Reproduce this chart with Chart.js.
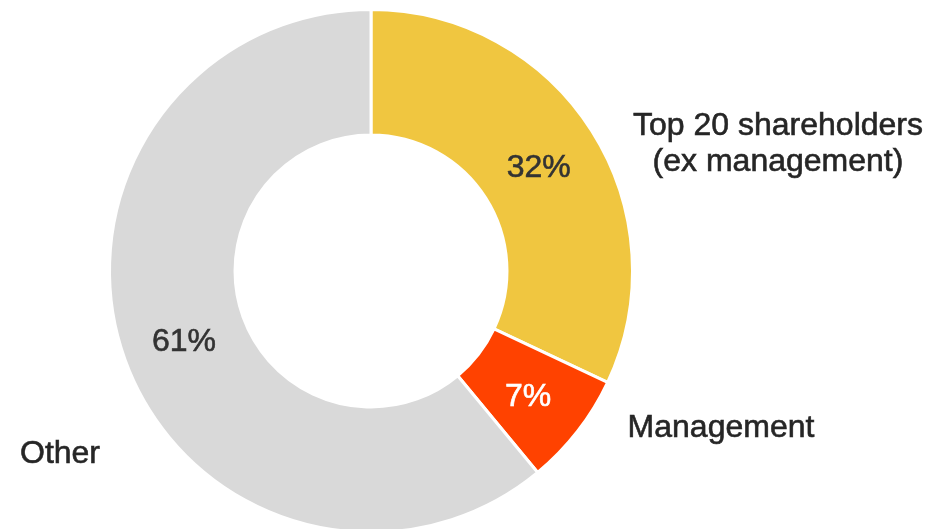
<!DOCTYPE html>
<html>
<head>
<meta charset="utf-8">
<script src="https://cdn.jsdelivr.net/npm/chart.js@4.4.0/dist/chart.umd.min.js"></script>
<style>
  html, body { margin: 0; padding: 0; background: #fff; overflow: hidden; }
  #wrap { width: 931px; height: 542px; }
</style>
</head>
<body>
<div id="wrap"><canvas id="shareChart" width="931" height="542"></canvas></div>
<script>
// Shareholder structure
const categories = ["Top 20 shareholders\n(ex management)", "Management", "Other"];
const shares = [32, 7, 61];
const sliceColors = ["#F0C640", "#FF4200", "#D9D9D9"];
const valueColors = ["#333333", "#FFFFFF", "#333333"];

// outside label anchors, relative to chart centre (text only)
const labelOffsets = [[407, -145], [350, 157], [-311, 183]];

const FONT = "Liberation Sans, Arial, sans-serif";

/* =========================
   labels plugin
========================= */
const sliceLabels = {
    id: "sliceLabels",
    afterDatasetsDraw(chart) {
        const ctx = chart.ctx;
        const meta = chart.getDatasetMeta(0);
        ctx.save();
        ctx.textAlign = "center";
        ctx.textBaseline = "middle";
        ctx.lineWidth = 0.6;
        meta.data.forEach((arc, i) => {
            const p = arc.tooltipPosition();
            ctx.font = "32px " + FONT;
            ctx.fillStyle = valueColors[i];
            ctx.strokeStyle = valueColors[i];
            ctx.fillText(shares[i] + "%", p.x, p.y + 4);
            ctx.strokeText(shares[i] + "%", p.x, p.y + 4);

            const lines = categories[i].split("\n");
            const cx = arc.x + labelOffsets[i][0];
            const cy = arc.y + labelOffsets[i][1];
            ctx.fillStyle = "#262626";
            ctx.strokeStyle = "#262626";
            lines.forEach((line, j) => {
                ctx.fillText(line, cx, cy + j * 36);
                ctx.strokeText(line, cx, cy + j * 36);
            });
        });
        ctx.restore();
    }
};

new Chart(document.getElementById("shareChart"), {
    type: "doughnut",
    data: {
        labels: categories,
        datasets: [{
            data: shares,
            backgroundColor: sliceColors,
            borderColor: "#FFFFFF",
            borderWidth: 3
        }]
    },
    options: {
        responsive: false,
        animation: false,
        cutout: "52%",
        layout: {
            padding: { left: 108, right: 297, top: 8, bottom: 8 }
        },
        plugins: {
            legend: { display: false },
            tooltip: { enabled: false }
        }
    },
    plugins: [sliceLabels]
});
</script>
</body>
</html>
